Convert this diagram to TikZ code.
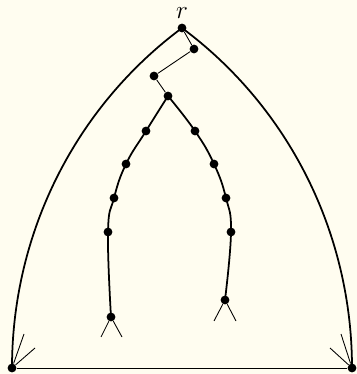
\documentclass[tikz,border=0pt]{standalone}
\usepackage{tikz}
\definecolor{paper}{HTML}{FFFDF0}
\tikzset{
  dot/.style={circle, fill=black, inner sep=0pt, minimum size=5pt},
  branch/.style={line width=1pt, line cap=round},
  twig/.style={line width=0.5pt}
}
\begin{document}
\begin{tikzpicture}
        % Background and bounding box
        \fill[paper] (0,0) rectangle (7.14,7.48);
        \useasboundingbox (0,0) rectangle (7.14,7.48);

        % Root and the short path below it
        \node[dot] (r) at (3.64,6.92) {};
        \node (rlab) at (3.64,7.22) {\Large $r$};
        \node[dot] (a1) at (3.88,6.50) {};
        \node[dot] (a2) at (3.08,5.96) {};
        \node[dot] (a3) at (3.36,5.56) {};
        \draw[twig] (r) -- (a1) -- (a2) -- (a3);

        % Left branch
        \node[dot] (l1) at (2.92,4.86) {};
        \node[dot] (l2) at (2.52,4.20) {};
        \node[dot] (l3) at (2.28,3.52) {};
        \node[dot] (l4) at (2.16,2.84) {};
        \node[dot] (l5) at (2.22,1.14) {};
        \draw[branch] plot[smooth, tension=0.75] coordinates {(a3.center) (l1.center) (l2.center) (l3.center) (l4.center) (l5.center)};

        % Right branch
        \node[dot] (q1) at (3.90,4.86) {};
        \node[dot] (q2) at (4.28,4.20) {};
        \node[dot] (q3) at (4.52,3.52) {};
        \node[dot] (q4) at (4.62,2.84) {};
        \node[dot] (q5) at (4.50,1.48) {};
        \draw[branch] plot[smooth, tension=0.75] coordinates {(a3.center) (q1.center) (q2.center) (q3.center) (q4.center) (q5.center)};

        % Open ends of the branches
        \coordinate (l5a) at (2.02,0.74);
        \coordinate (l5b) at (2.44,0.74);
        \coordinate (q5a) at (4.28,1.06);
        \coordinate (q5b) at (4.72,1.06);
        \draw[twig] (l5) -- (l5a) (l5) -- (l5b);
        \draw[twig] (q5) -- (q5a) (q5) -- (q5b);

        % Outer arcs and base
        \node[dot] (bl) at (0.24,0.12) {};
        \node[dot] (br) at (7.04,0.12) {};
        \draw[branch] (r.center) to[out=-143.4, in=90, looseness=0.9] (bl.center);
        \draw[branch] (r.center) to[out=-36.6, in=90, looseness=0.9] (br.center);
        \draw[twig] (bl) -- (br);

        % Open ends at the corners
        \coordinate (bla) at (0.48,0.80);
        \coordinate (blb) at (0.70,0.52);
        \coordinate (bra) at (6.82,0.80);
        \coordinate (brb) at (6.60,0.52);
        \draw[twig] (bl) -- (bla) (bl) -- (blb);
        \draw[twig] (br) -- (bra) (br) -- (brb);
    \end{tikzpicture}
\end{document}
